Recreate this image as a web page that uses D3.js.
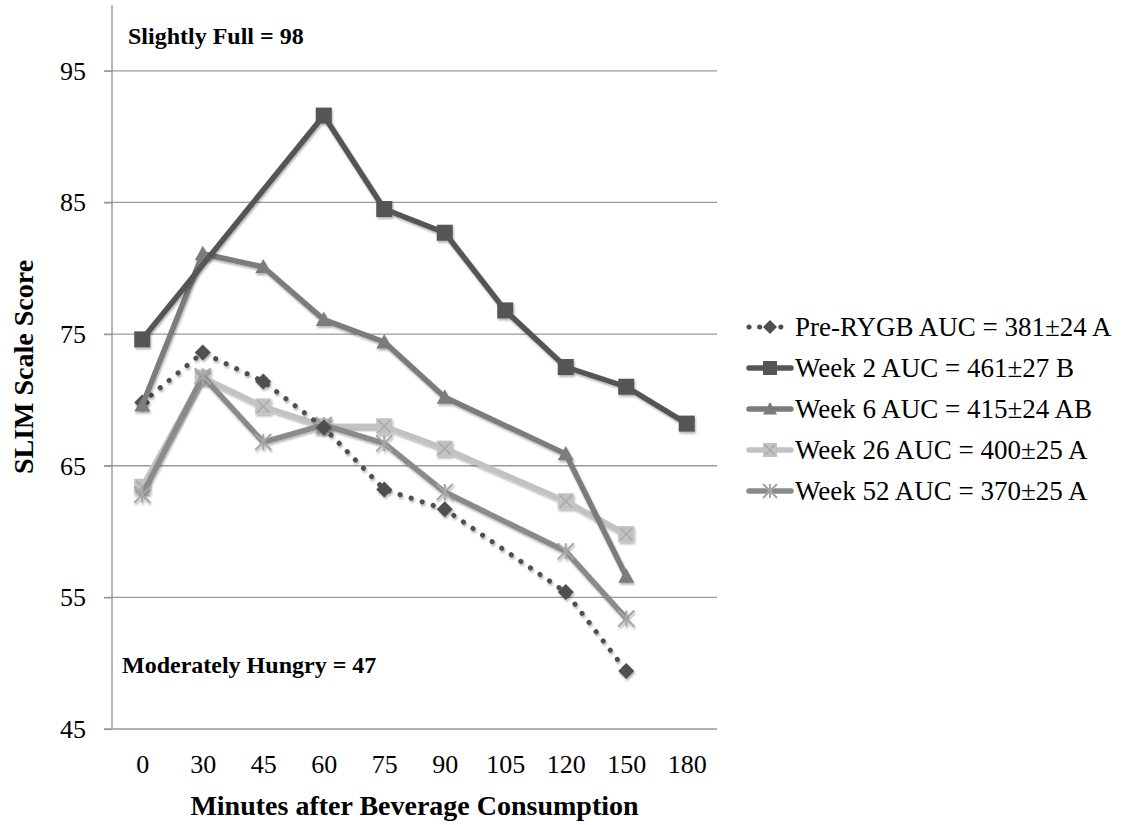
<!DOCTYPE html>
<html>
<head>
<meta charset="utf-8">
<script src="https://cdn.jsdelivr.net/npm/d3@7"></script>
<style>
  body { margin: 0; background: #fff; }
  svg, svg text { font-family: "Liberation Serif", "Times New Roman", serif; }
</style>
</head>
<body>
<svg id="chart" width="1125" height="825"></svg>
<script>
// x categories (minutes) and SLIM scores; null = no point
const minutes = ["0", "30", "45", "60", "75", "90", "105", "120", "150", "180"];
const preRYGB = [69.8, 73.6, 71.4, 67.9, 63.2, 61.7, null, 55.4, 49.4, null];
const week2 = [74.6, null, null, 91.6, 84.5, 82.7, 76.8, 72.5, 71.0, 68.2];
const week6 = [69.6, 81.1, 80.1, 76.1, 74.4, 70.2, null, 65.9, 56.6, null];
const week26 = [63.4, 71.7, 69.5, 68.0, 68.0, 66.3, null, 62.3, 59.8, null];
const week52 = [62.8, 71.8, 66.8, 68.1, 66.7, 63.0, null, 58.5, 53.4, null];
const yTicks = [45, 55, 65, 75, 85, 95];
const legendLabels = [
  "Pre-RYGB AUC = 381\u00b124 A",
  "Week 2 AUC = 461\u00b127 B",
  "Week 6 AUC = 415\u00b124 AB",
  "Week 26 AUC = 400\u00b125 A",
  "Week 52 AUC = 370\u00b125 A"
];

const series = [
  { values: preRYGB, color: "#4f4f4f", marker: "diamond", dotted: true },
  { values: week2, color: "#555555", marker: "square" },
  { values: week6, color: "#7b7b7b", marker: "triangle" },
  { values: week26, color: "#c2c2c2", marker: "xsquare" },
  { values: week52, color: "#8a8a8a", marker: "star" }
];
series.forEach((s, i) => s.label = legendLabels[i]);

const serif = '"Liberation Serif", "Times New Roman", serif';
const svg = d3.select("#chart");
const plotLeft = 112, plotRight = 717, plotTop = 5, plotBottom = 729;

const defs = svg.append("defs");
const f = defs.append("filter").attr("id", "shadow")
  .attr("x", "-20%").attr("y", "-20%").attr("width", "140%").attr("height", "140%");
f.append("feDropShadow").attr("dx", 1).attr("dy", 2).attr("stdDeviation", 1.2)
  .attr("flood-color", "#000").attr("flood-opacity", 0.3);

const x = d3.scalePoint().domain(minutes).range([plotLeft, plotRight]).padding(0.5);
const y = d3.scaleLinear().domain([45, 100]).range([plotBottom, plotTop]);

// gridlines
svg.append("g")
  .selectAll("line")
  .data(yTicks)
  .join("line")
  .attr("x1", plotLeft - 8).attr("x2", plotRight)
  .attr("y1", d => y(d)).attr("y2", d => y(d))
  .attr("stroke", "#9a9a9a").attr("stroke-width", 1.3);

// y axis
const yAxis = svg.append("g")
  .attr("transform", `translate(${plotLeft},0)`)
  .call(d3.axisLeft(y).tickValues(yTicks).tickSize(8).tickPadding(18));
yAxis.select(".domain").remove();
yAxis.selectAll(".tick line").attr("stroke", "#9a9a9a").attr("stroke-width", 1.3);
yAxis.selectAll(".tick text")
  .style("font-family", serif).style("font-size", "26px").attr("fill", "#000");
svg.append("line")
  .attr("x1", plotLeft).attr("x2", plotLeft).attr("y1", plotTop).attr("y2", plotBottom)
  .attr("stroke", "#8f8f8f").attr("stroke-width", 1.3);

// x axis labels
const xAxis = svg.append("g")
  .attr("transform", `translate(0,${plotBottom})`)
  .call(d3.axisBottom(x).tickSize(0).tickPadding(26));
xAxis.select(".domain").remove();
xAxis.selectAll(".tick text")
  .style("font-family", serif).style("font-size", "26px").attr("fill", "#000");

// axis titles
svg.append("text")
  .attr("x", (plotLeft + plotRight) / 2).attr("y", 815)
  .attr("text-anchor", "middle")
  .style("font-size", "28px").style("font-weight", "bold")
  .text("Minutes after Beverage Consumption");

svg.append("text")
  .attr("transform", `translate(33,${(plotTop + plotBottom) / 2}) rotate(-90)`)
  .attr("text-anchor", "middle")
  .style("font-size", "28px").style("font-weight", "bold")
  .text("SLIM Scale Score");

// annotations
svg.append("text").attr("x", 128).attr("y", 44)
  .style("font-size", "24px").style("font-weight", "bold")
  .text("Slightly Full = 98");
svg.append("text").attr("x", 122).attr("y", 673)
  .style("font-size", "24px").style("font-weight", "bold")
  .text("Moderately Hungry = 47");

function drawMarker(g, type, color, size) {
  const h = size / 2;
  if (type === "square") {
    g.append("rect").attr("x", -h).attr("y", -h).attr("width", size).attr("height", size)
      .attr("fill", color);
  } else if (type === "diamond") {
    g.append("path").attr("d", `M0,${-h}L${h},0L0,${h}L${-h},0Z`).attr("fill", color);
  } else if (type === "triangle") {
    g.append("path").attr("d", `M0,${-h}L${h},${h * 0.8}L${-h},${h * 0.8}Z`).attr("fill", color);
  } else if (type === "xsquare") {
    g.append("rect").attr("x", -h).attr("y", -h).attr("width", size).attr("height", size)
      .attr("fill", color);
    g.append("path").attr("d", `M${-h + 2},${-h + 2}L${h - 2},${h - 2}M${h - 2},${-h + 2}L${-h + 2},${h - 2}`)
      .attr("stroke", "#a9a9a9").attr("stroke-width", 1.5);
  } else if (type === "star") {
    g.append("path")
      .attr("d", `M${-h},${-h}L${h},${h}M${h},${-h}L${-h},${h}M0,${-h}L0,${h}`)
      .attr("stroke", "#a6a6a6").attr("stroke-width", 2);
  }
}

const line = d3.line()
  .defined(d => d.v != null)
  .x(d => x(d.m))
  .y(d => y(d.v));

// lines are drawn back to front so week 2 sits on top like the original
const order = [3, 4, 0, 2, 1];
order.forEach(i => {
  const s = series[i];
  const pts = s.values.map((v, j) => ({ m: minutes[j], v })).filter(d => d.v != null);
  const g = svg.append("g").attr("filter", "url(#shadow)");
  g.append("path")
    .datum(pts)
    .attr("d", line)
    .attr("fill", "none")
    .attr("stroke", s.color)
    .attr("stroke-width", s.dotted ? 5 : 5.5)
    .attr("stroke-linecap", "round")
    .attr("stroke-linejoin", "round")
    .attr("stroke-dasharray", s.dotted ? "0.1 11.5" : null);
  g.selectAll("g.pt")
    .data(pts)
    .join("g")
    .attr("class", "pt")
    .attr("transform", d => `translate(${x(d.m)},${y(d.v)})`)
    .each(function () { drawMarker(d3.select(this), s.marker, s.color, 16); });
});

// legend
const legend = svg.append("g");
series.forEach((s, i) => {
  const cy = 327 + i * 41;
  const g = legend.append("g").attr("transform", `translate(0,${cy})`);
  g.append("line")
    .attr("x1", 749).attr("x2", 791).attr("y1", 0).attr("y2", 0)
    .attr("stroke", s.color).attr("stroke-width", s.dotted ? 5 : 5.5)
    .attr("stroke-linecap", "round")
    .attr("stroke-dasharray", s.dotted ? "0.1 10.5" : null);
  const m = g.append("g").attr("transform", "translate(770,0)");
  drawMarker(m, s.marker, s.color, 14);
  g.append("text")
    .attr("x", 795).attr("y", 9)
    .style("font-size", "27px")
    .text(s.label);
});
</script>
</body>
</html>
